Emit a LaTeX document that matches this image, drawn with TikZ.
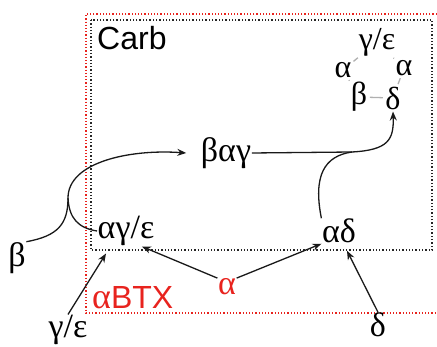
\documentclass[tikz,border=0pt]{standalone}
\usepackage{fontspec}
\setmainfont{Liberation Serif}
\newfontfamily\labelsans{Liberation Sans}
\usepackage{tikz}
\usetikzlibrary{arrows.meta, positioning, calc}
\definecolor{btxred}{HTML}{E8231E}
\definecolor{ringgray}{HTML}{B0B0B0}
\tikzset{
  carbbox/.style={draw=black!85, line width=1.3pt, dotted},
  btxbox/.style={draw=btxred, line width=1.2pt, dotted},
  greek/.style={inner sep=0.5pt, font=\fontsize{34}{36}\selectfont},
  ringgreek/.style={inner sep=0pt, font=\fontsize{32}{34}\selectfont},
  sanslabel/.style={inner sep=0pt, font=\labelsans\fontsize{32}{34}\selectfont},
  flowline/.style={-{Stealth[length=9pt, width=7pt]}, line width=1.3pt, draw=black!90},
  mergeline/.style={line width=1.3pt, draw=black!90},
  ringlink/.style={draw=ringgray, line width=1.3pt, shorten <=2.5pt, shorten >=2.5pt}
}
\begin{document}
\begin{tikzpicture}[x=1pt, y=-1pt]
  \useasboundingbox (0,0) rectangle (437,347);

  % boxes: alpha-BTX (open to the right) and Carb
  \draw[btxbox] (440,14) -- (86,14) -- (86,313) -- (440,313);
  \draw[carbbox] (91,20) rectangle (432,250);
  \node[sanslabel, anchor=north west] at (97,26) (carb) {Carb};
  \node[sanslabel, anchor=south west, text=btxred] at (92,309) (btx)
    {{\rmfamily\fontsize{36}{38}\selectfont α}BTX};

  % subunit ring
  \node[ringgreek] at (377,42) (rgam) {γ/ε};
  \node[ringgreek] at (343,70) (ralphaL) {α};
  \node[ringgreek] at (404,68) (ralphaR) {α};
  \node[ringgreek] at (359,97) (rbeta) {β};
  \node[ringgreek] at (393,98) (rdelta) {δ};
  \draw[ringlink] (rgam) -- (ralphaL);
  \draw[ringlink] (rgam) -- (ralphaR);
  \draw[ringlink] (ralphaL) -- (rbeta);
  \draw[ringlink] (rbeta) -- (rdelta);
  \draw[ringlink] (ralphaR) -- (rdelta);

  % intermediates
  \node[greek] at (226,153) (bag) {βαγ};
  \node[greek] at (126,231) (ag) {αγ/ε};
  \node[greek] at (339,231) (ad) {αδ};

  % free subunits
  \node[greek] at (17,258) (beta) {β};
  \node[greek] at (68,330) (gameps) {γ/ε};
  \node[greek, text=btxred] at (227,287) (alpha) {α};
  \node[greek] at (378,325) (delta) {δ};

  % assembly paths
  \coordinate (jleft) at (68,198);
  \coordinate (jright) at (352,152);
  \draw[flowline] (beta.north east) .. controls (58,236) and (68,224) .. (jleft)
    .. controls (68,162) and (130,149) .. ([xshift=-14pt]bag.west);
  \draw[mergeline] (ag.west) .. controls (78,228) and (69,218) .. (jleft);
  \draw[flowline] (bag.east) -- (jright)
    .. controls (388,150) and (394,140) .. ([yshift=-2pt]rdelta.south);
  \draw[mergeline] (ad.north west) .. controls (313,176) and (324,156) .. (jright);

  \draw[flowline] (alpha.north west) -- ($(ag.south)!0.55!(ag.south east)$);
  \draw[flowline] (alpha.north east) -- (ad.south west);
  \draw[flowline] (gameps.north) -- ([xshift=9pt, yshift=-7pt]ag.south west);
  \draw[flowline] (delta.north) -- ([xshift=8pt, yshift=-7pt]ad.south);
\end{tikzpicture}
\end{document}
